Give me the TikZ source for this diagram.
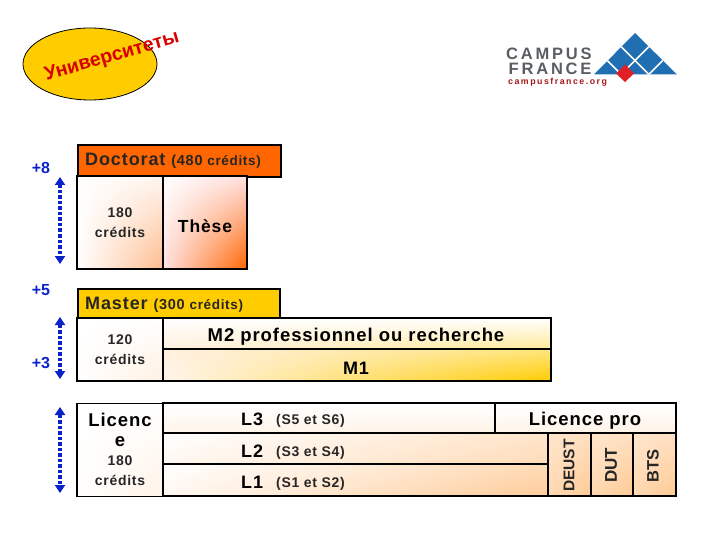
\documentclass[tikz,border=0pt]{standalone}
\usepackage{fontspec}
\setmainfont{Liberation Sans}
\newfontfamily\widefont[LetterSpace=5]{Liberation Sans}
\newfontfamily\logofont[LetterSpace=17]{Liberation Sans}
\usetikzlibrary{arrows.meta,shapes.geometric,shadings}
\definecolor{docorange}{HTML}{FF6600}
\definecolor{masteryellow}{HTML}{FFCC00}
\definecolor{stepblue}{HTML}{0A22C8}
\definecolor{logoblue}{HTML}{1F6FB2}
\definecolor{logored}{HTML}{E01F26}
\definecolor{logogray}{HTML}{5A5E62}
\tikzset{
  cell/.style={draw=black,line width=1.6pt,inner sep=0,shade},
  bar/.style={draw=black,line width=1.6pt,inner sep=0,anchor=north west},
  lab/.style={inner sep=0,anchor=base west,font=\bfseries},
  mid/.style={inner sep=0,align=center,font=\widefont\bfseries\fontsize{14}{20}\selectfont,text=black!85},
  steplab/.style={inner sep=0,text=stepblue,font=\bfseries\fontsize{16}{18}\selectfont},
  steparrow/.style={stepblue,line width=4pt,dash pattern=on 3.5pt off 2pt,
    {Triangle[length=8pt,width=10pt]}-{Triangle[length=8pt,width=10pt]}},
}
\begin{document}
\begin{tikzpicture}[x=1pt,y=-1pt]
\useasboundingbox (0,0) rectangle (720,540);
% university label
\node[draw=black,fill=masteryellow,ellipse,minimum width=134pt,minimum height=72pt,inner sep=0,line width=0.8pt] (oval) at (90,64) {};
\node[inner sep=0,rotate=16,text=red!85!black,font=\bfseries\fontsize{19.5}{22}\selectfont] (univ) at (112,57) {Университеты};
% logo
\node[lab,text=logogray,font=\logofont\bfseries\fontsize{16.5}{18}\selectfont] (campus) at (506,59.5) {CAMPUS};
\node[lab,text=logogray,font=\logofont\bfseries\fontsize{16.5}{18}\selectfont] (france) at (508.5,75) {FRANCE};
\node[lab,text=red!60!black!90!white,font=\logofont\bfseries\fontsize{8.8}{10}\selectfont] (site) at (508,84.5) {campusfrance.org};
\begin{scope}
  \clip (635,33) -- (677,74.5) -- (594,74.5) -- cycle;
  \fill[logoblue] (590,30) rectangle (680,75);
  \foreach \k in {1,2} {
    \draw[white,line width=1.6pt] (635-\k*13.8,33+\k*13.8) -- +(44,44);
    \draw[white,line width=1.6pt] (635+\k*13.8,33+\k*13.8) -- +(-44,44);
  }
\end{scope}
\fill[logored] (625,64.5) -- (634,73.5) -- (625,82) -- (616,73.5) -- cycle;
% doctorat
\node[bar,fill=docorange,minimum width=203pt,minimum height=32pt] (doc) at (77,144) {};
\node[lab,font=\widefont\bfseries\fontsize{18}{20}\selectfont,text=black!85] (docname) at (85,166) {Doctorat \fontsize{14.5}{16}\selectfont(480 \fontsize{13.5}{16}\selectfont crédits)};
\node[cell,minimum width=86pt,minimum height=93pt,upper left=white,upper right=docorange!6!white,lower left=white,lower right=docorange!45!white] (doccredits) at (120,222.5) {};
\node[mid] (doccreditslab) at (120,223) {180\\crédits};
\node[cell,minimum width=84pt,minimum height=93pt,upper left=white,upper right=red!12!white,lower left=red!12!white,lower right=docorange] (these) at (205,222.5) {};
\node[lab,font=\widefont\bfseries\fontsize{17.5}{20}\selectfont,anchor=center] (theselab) at (205,226) {Thèse};
% master
\node[bar,fill=masteryellow,minimum width=202pt,minimum height=30pt] (master) at (77,288) {};
\node[lab,font=\widefont\bfseries\fontsize{18}{20}\selectfont,text=black!85] (mastername) at (85,309) {Master \fontsize{14.5}{16}\selectfont(300 \fontsize{13.5}{16}\selectfont crédits)};
\node[cell,minimum width=86pt,minimum height=63pt,upper left=white,upper right=white,lower left=white,lower right=orange!12!white] (mastercredits) at (120,349.5) {};
\node[mid] (mastercreditslab) at (120,350) {120\\crédits};
\node[cell,minimum width=388pt,minimum height=31pt,upper left=white,upper right=white,lower left=orange!12!white,lower right=masteryellow!40!white] (mtwo) at (357,333.5) {};
\node[lab,anchor=center,font=\widefont\bfseries\fontsize{18.5}{20}\selectfont] (mtwolab) at (356,336.5) {M2 professionnel ou recherche};
\node[cell,minimum width=388pt,minimum height=32pt,upper left=orange!12!white,upper right=masteryellow!50!white,lower left=orange!8!white,lower right=masteryellow] (mone) at (357,365) {};
\node[lab,anchor=center,font=\widefont\bfseries\fontsize{18}{20}\selectfont] (monelab) at (356,368) {M1};
% licence
\node[cell,minimum width=86pt,minimum height=93pt,upper left=white,upper right=white,lower left=white,lower right=orange!10!white] (licence) at (120,450) {};
\node[mid,font=\widefont\bfseries\fontsize{18.5}{20}\selectfont,text=black] (licencelab) at (120,429.5) {Licenc\\e};
\node[mid] (licencecredits) at (120,471) {180\\crédits};
\node[cell,minimum width=332pt,minimum height=30pt,upper left=white,upper right=white,lower left=orange!8!white,lower right=orange!10!white] (lthree) at (329,418) {};
\node[cell,minimum width=181pt,minimum height=30pt,upper left=white,upper right=white,lower left=orange!8!white,lower right=orange!10!white] (lpro) at (585.5,418) {};
\node[cell,minimum width=385pt,minimum height=31pt,upper left=white,upper right=orange!20!white,lower left=orange!6!white,lower right=orange!28!white] (ltwo) at (355.5,448.5) {};
\node[cell,minimum width=385pt,minimum height=32pt,upper left=white,upper right=orange!28!white,lower left=orange!6!white,lower right=orange!40!white] (lone) at (355.5,480) {};
\foreach \name/\lab/\cx/\tx/\cw/\sz in {deust/DEUST/569.5/569/43/15.5,dut/DUT/612/611/42/17,bts/BTS/654.5/653/43/16.5} {
  \node[cell,minimum width=\cw pt,minimum height=63pt,upper left=orange!20!white,upper right=orange!24!white,lower left=orange!30!white,lower right=orange!42!white] (\name) at (\cx,464.5) {};
  \node[inner sep=0,rotate=90,font=\bfseries\fontsize{\sz}{18}\selectfont,text=black!85] (\name lab) at (\tx,465.5) {\lab};
}
\foreach \name/\lab/\sem/\y in {lthree/L3/(S5 et S6)/425,ltwo/L2/(S3 et S4)/457,lone/L1/(S1 et S2)/488} {
  \node[lab,font=\widefont\bfseries\fontsize{18}{20}\selectfont] (\name lab) at (241,\y) {\lab};
  \node[lab,font=\widefont\bfseries\fontsize{14}{16}\selectfont,text=black!85] (\name sem) at (276,\y-1) {\sem};
}
\node[lab,anchor=center,font=\widefont\bfseries\fontsize{18.5}{20}\selectfont] (lprolab) at (585,420.5) {Licence pro};
% study years
\node[steplab] (eight) at (41,168) {+8};
\node[steplab] (five) at (41,290) {+5};
\node[steplab] (three) at (41,363) {+3};
\coordinate (doctop) at (60,177);
\coordinate (docbot) at (60,264);
\coordinate (mastertop) at (60,317);
\coordinate (masterbot) at (60,379);
\coordinate (lictop) at (60,407);
\coordinate (licbot) at (60,493);
\draw[steparrow] (doctop) -- (docbot);
\draw[steparrow] (mastertop) -- (masterbot);
\draw[steparrow] (lictop) -- (licbot);
\end{tikzpicture}
\end{document}
